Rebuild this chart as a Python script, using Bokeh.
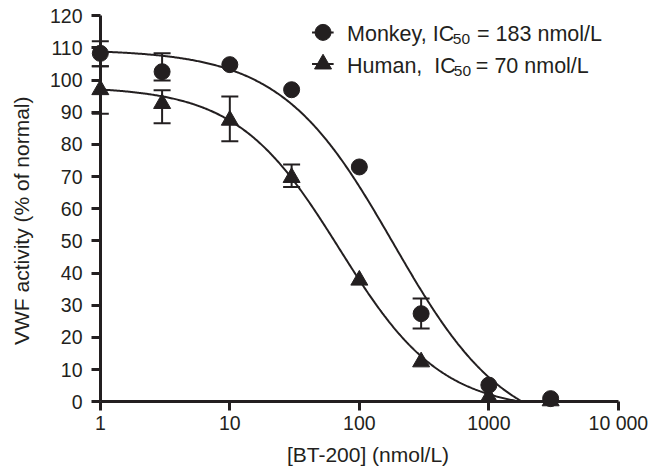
import numpy as np
from bokeh.plotting import figure
from bokeh.models import (ColumnDataSource, Whisker, TeeHead, Label, FixedTicker,
                          LinearAxis, LogAxis)
from bokeh.embed import file_html
from bokeh.resources import INLINE

# ---------------- data ----------------
conc = [1, 3, 10, 30, 100, 300, 1000, 3000]
monkey_activity = [108.3, 102.6, 104.8, 97.0, 73.0, 27.4, 5.2, 1.0]
human_activity = [97.0, 92.7, 87.5, 69.7, 37.8, 12.4, 1.5, 0.3]

monkey_err_conc = [1, 3, 300]
monkey_err_low = [104.3, 99.9, 22.8]
monkey_err_high = [112.1, 108.3, 32.1]

human_err_conc = [1, 3, 10, 30]
human_err_low = [89.5, 86.6, 81.0, 66.8]
human_err_high = [104.3, 96.8, 94.9, 73.8]

# fitted 4-parameter logistic curves (parameters of the fits shown)
monkey_fit = dict(top=109.5, bottom=-11.0, ic50=183.0, hill=1.0)
human_fit = dict(top=98.0, bottom=-2.75, ic50=70.0, hill=1.1)

legend_heads = ["Monkey, IC", "Human,\u00a0 IC"]
legend_subs = ["50", "50"]
legend_tails = ["= 183 nmol/L", "= 70 nmol/L"]

x_ticks = [1, 10, 100, 1000, 10000]
x_tick_labels = ["1", "10", "100", "1000", "10 000"]
y_ticks = [0, 10, 20, 30, 40, 50, 60, 70, 80, 90, 100, 110, 120]

x_title = "[BT-200] (nmol/L)"
y_title = "VWF activity (% of normal)"

INK = "#231f20"
FONT = "Liberation Sans"


def fit_curve(f, n=400):
    # the fitted line is drawn down to the x-axis (activity 0)
    x_zero = f["ic50"] * ((f["top"] - f["bottom"]) / (-f["bottom"]) - 1) ** (1 / f["hill"])
    xs = np.logspace(0, np.log10(x_zero), n)
    ys = f["bottom"] + (f["top"] - f["bottom"]) / (1 + (xs / f["ic50"]) ** f["hill"])
    return xs, np.clip(ys, 0, None)


p = figure(width=662, height=471, x_axis_type="log",
           x_range=(0.84, 16200), y_range=(-3, 121),
           output_backend="svg", toolbar_location=None,
           min_border_left=90, min_border_right=17,
           min_border_top=12, min_border_bottom=60)
p.xgrid.visible = False
p.ygrid.visible = False
p.outline_line_color = None
p.background_fill_color = "white"
p.border_fill_color = "white"

# label-only axes at the frame edges (tick labels + titles)
for ax in (p.xaxis[0], p.yaxis[0]):
    ax.axis_line_color = None
    ax.major_tick_line_color = None
    ax.minor_tick_line_color = None
    ax.major_tick_out = 0
    ax.major_tick_in = 0
    ax.major_label_text_font = FONT
    ax.major_label_text_font_size = "19.5px"
    ax.major_label_text_color = INK
    ax.axis_label_text_font = FONT
    ax.axis_label_text_font_size = "21px"
    ax.axis_label_text_font_style = "normal"
    ax.axis_label_text_color = INK
p.xaxis.ticker = FixedTicker(ticks=x_ticks)
p.yaxis.ticker = FixedTicker(ticks=y_ticks)
p.xaxis.major_label_overrides = {t: l for t, l in zip(x_ticks, x_tick_labels)}
p.xaxis.major_label_standoff = 0
p.yaxis.major_label_standoff = 8
p.xaxis.axis_label = x_title
p.yaxis.axis_label = y_title + "\u00a0\u00a0\u00a0"
p.xaxis.axis_label_standoff = 6
p.yaxis.axis_label_standoff = 14

# axis lines + ticks crossing at (1, 0)
common = dict(axis_line_width=3, axis_line_color=INK,
              major_tick_line_width=3, major_tick_line_color=INK,
              major_tick_in=9, major_tick_out=0, minor_tick_line_color=None,
              major_label_text_font_size="2px", major_label_text_color=None,
              major_label_standoff=0)
ax_y = LinearAxis(fixed_location=1, ticker=FixedTicker(ticks=y_ticks), bounds=(0, 120), **common)
ax_x = LogAxis(fixed_location=0, ticker=FixedTicker(ticks=x_ticks), bounds=(1, 10000), **common)
p.add_layout(ax_y, "right")
p.add_layout(ax_x, "above")

# fitted curves
for f in (monkey_fit, human_fit):
    xs, ys = fit_curve(f)
    p.line(xs, ys, line_width=2, line_color=INK)

# error bars
for xe, lo, hi in ((monkey_err_conc, monkey_err_low, monkey_err_high),
                   (human_err_conc, human_err_low, human_err_high)):
    src = ColumnDataSource(dict(x=xe, lower=lo, upper=hi))
    w = Whisker(source=src, base="x", lower="lower", upper="upper",
                line_width=2, line_color=INK,
                upper_head=TeeHead(size=17, line_width=2, line_color=INK),
                lower_head=TeeHead(size=17, line_width=2, line_color=INK))
    p.add_layout(w)

# points
p.scatter(conc, human_activity, marker="triangle", size=17, color=INK)
p.scatter(conc, monkey_activity, marker="circle", size=16, color=INK)

# ---------------- pixel helpers for the legend ----------------
AX_X, DEC, AX_Y, UNIT = 100.0, 129.5, 401.3, 3.218


def dx(px):
    return 10 ** ((px - AX_X) / DEC)


def dy(py):
    return (AX_Y - py) / UNIT


# legend (drawn by hand for the subscript)
rows_base = [33.7, 65.3]
rows_mark = [31.8, 63.5]
markers = ["circle", "triangle"]
sub_x = [452.5, 453.5]
tail_x = [476.7, 475.5]
for i in range(2):
    base = rows_base[i]
    mid = rows_mark[i]
    p.line([dx(311.7), dx(333.3)], [dy(mid), dy(mid)], line_width=2, line_color=INK)
    p.scatter([dx(322.7)], [dy(mid)], marker=markers[i], size=16 if i == 0 else 17, color=INK)
    p.add_layout(Label(x=dx(346.7), y=dy(base), text=legend_heads[i], text_font=FONT,
                       text_font_size="21.5px", text_color=INK, text_baseline="alphabetic"))
    p.add_layout(Label(x=dx(sub_x[i]), y=dy(base + 5), text=legend_subs[i], text_font=FONT,
                       text_font_size="15.5px", text_color=INK, text_baseline="alphabetic"))
    p.add_layout(Label(x=dx(tail_x[i]), y=dy(base), text=legend_tails[i], text_font=FONT,
                       text_font_size="21.5px", text_color=INK, text_baseline="alphabetic"))

open("out.html", "w").write(file_html(p, INLINE))
